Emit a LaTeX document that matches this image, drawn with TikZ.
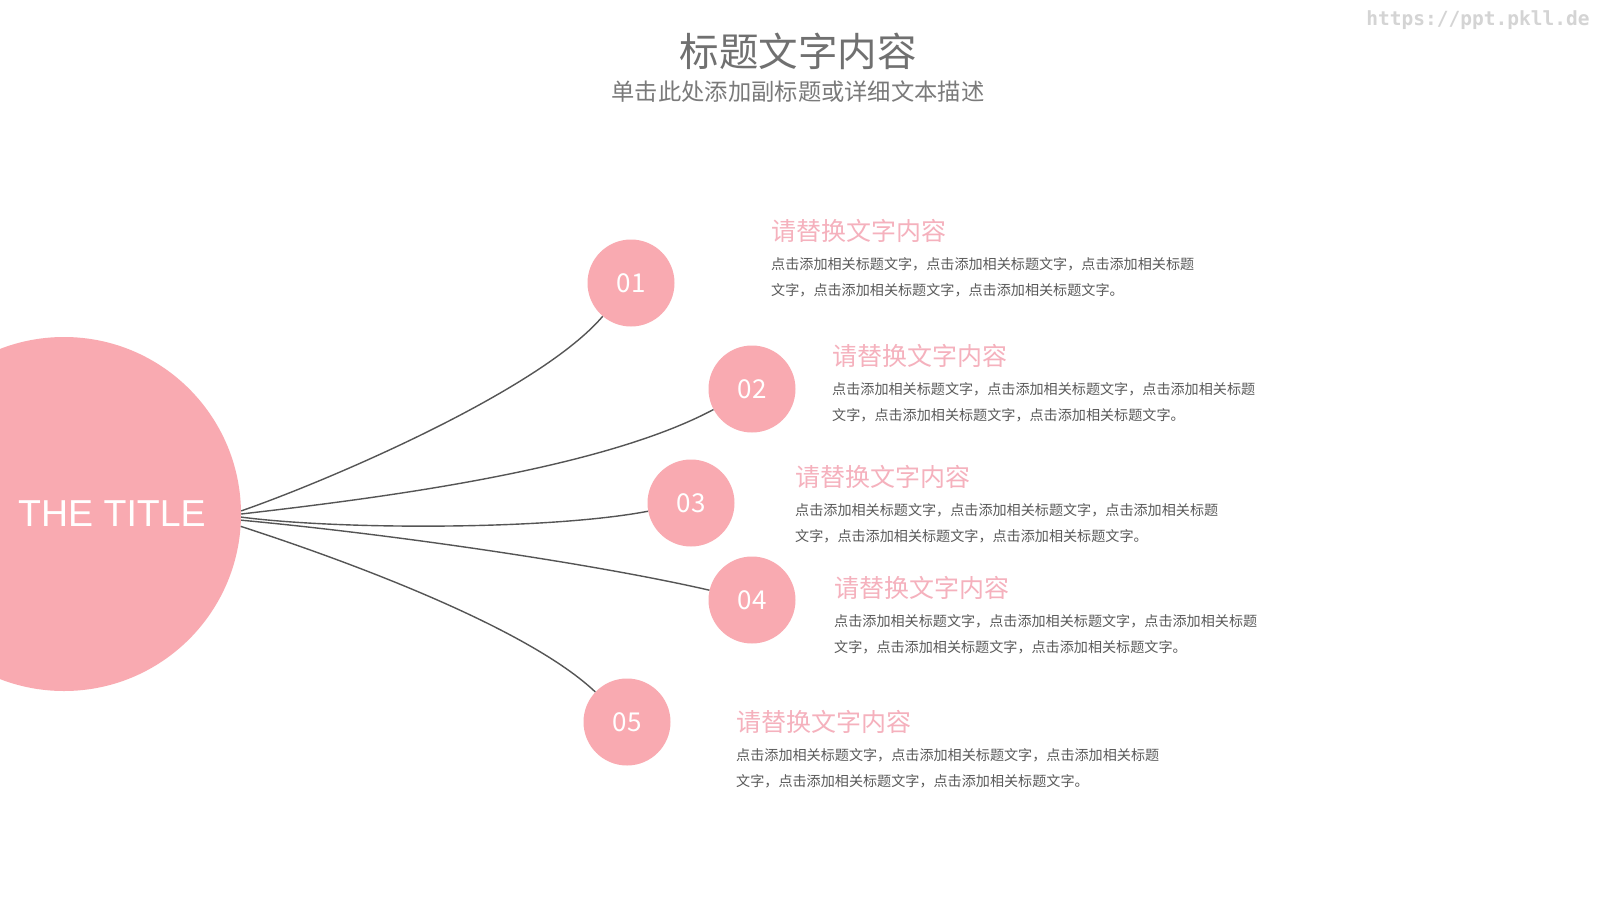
\documentclass[tikz,border=0pt]{standalone}
\usepackage{fontspec}
\setmainfont{Noto Sans CJK SC}
\newfontfamily\cjkf{Noto Sans CJK SC}
\newfontfamily\arialf{Liberation Sans}
\newfontfamily\wmf{DejaVu Sans Mono}
\definecolor{circpink}{HTML}{F9AAB1}
\definecolor{headpink}{HTML}{F5B1BD}
\definecolor{linegray}{HTML}{555555}
\definecolor{titlegray}{HTML}{707070}
\definecolor{subgray}{HTML}{7A7A7A}
\definecolor{bodygray}{HTML}{5A5A5A}
\definecolor{wmgray}{HTML}{D4D4D4}
\newcommand{\myblock}[3]{% name, x, y of heading
  \node[headtxt] (h#1) at (#2,#3) {请替换文字内容};
  \node[bodytxt] (ba#1) at (#2,#3+33.5) {点击添加相关标题文字，点击添加相关标题文字，点击添加相关标题};
  \node[bodytxt] (bb#1) at (#2,#3+59.5) {文字，点击添加相关标题文字，点击添加相关标题文字。};
}
\begin{document}
\begin{tikzpicture}[x=1pt,y=-1pt,
  smallc/.style={circle, fill=circpink, draw=none, inner sep=0pt, minimum size=87pt,
    text=white, font=\cjkf\fontsize{26}{26}\selectfont},
  bigc/.style={circle, fill=circpink, draw=none, inner sep=0pt, minimum size=354pt},
  conn/.style={draw=linegray, line width=1.4pt},
  headtxt/.style={anchor=west, inner sep=0pt, text=headpink, font=\cjkf\fontsize{25}{25}\selectfont},
  bodytxt/.style={anchor=west, inner sep=0pt, text=bodygray, font=\cjkf\fontsize{14.1}{14.1}\selectfont}]
\useasboundingbox (0,0) rectangle (1600,900);
\clip (0,0) rectangle (1600,900);
\fill[white] (0,0) rectangle (1600,900);
% header
\node[inner sep=0pt, text=titlegray, font=\cjkf\fontsize{39.5}{40}\selectfont] (title) at (798,51) {标题文字内容};
\node[inner sep=0pt, text=subgray, font=\cjkf\fontsize{23.3}{24}\selectfont] (subtitle) at (798,92) {单击此处添加副标题或详细文本描述};
\node[inner sep=0pt, text=wmgray, font=\wmf\bfseries\fontsize{19.5}{20}\selectfont] (wm) at (1478,20) {https://ppt.pkll.de};
% big circle
\node[bigc] (big) at (64,514) {};
\node[inner sep=0pt, text=white, font=\arialf\fontsize{37.5}{37.5}\selectfont] (bigtext) at (112,514) {THE TITLE};
% small circles
\node[smallc] (c1) at (631,283) {01};
\node[smallc] (c2) at (752,389) {02};
\node[smallc] (c3) at (691,503) {03};
\node[smallc] (c4) at (752,600) {04};
\node[smallc] (c5) at (627,722) {05};
% connectors
\draw[conn] (big.1) .. controls (330,480) and (540,390) .. (c1);
\draw[conn] (big.0) .. controls (380,498) and (600,470) .. (c2);
\draw[conn] (big.-1) .. controls (340,530) and (550,530) .. (c3);
\draw[conn] (big.-2) .. controls (400,535) and (600,565) .. (c4);
\draw[conn] (big.-4) .. controls (360,565) and (530,630) .. (c5);
% text blocks
\myblock{1}{771}{230.6}
\myblock{2}{832}{356}
\myblock{3}{795}{476.5}
\myblock{4}{834}{587.5}
\myblock{5}{736}{722}
\end{tikzpicture}
\end{document}
